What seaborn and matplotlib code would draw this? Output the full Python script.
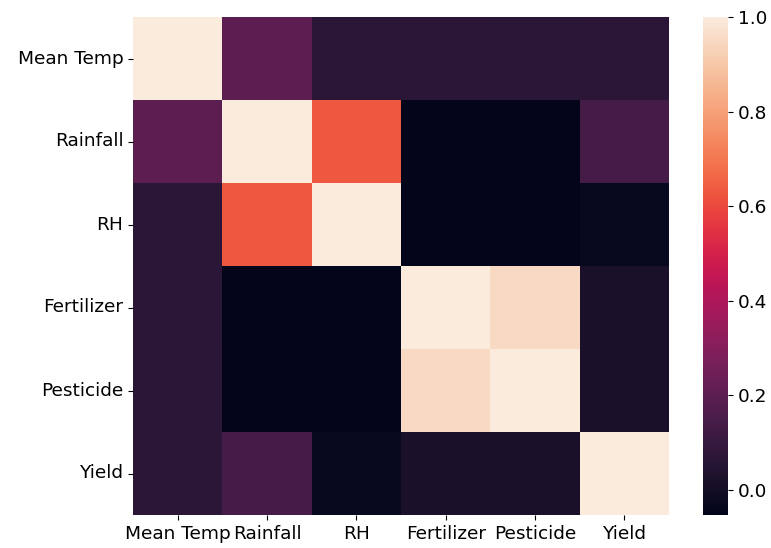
import numpy as np
import pandas as pd
import matplotlib
matplotlib.use("Agg")
import matplotlib.pyplot as plt
import seaborn as sns

labels = ["Mean Temp", "Rainfall", "RH", "Fertilizer", "Pesticide", "Yield"]

# Correlation matrix rows
mean_temp = [1.00, 0.20, 0.065, 0.07, 0.065, 0.07]
rainfall = [0.20, 1.00, 0.63, -0.045, -0.045, 0.14]
rh = [0.065, 0.63, 1.00, -0.053, -0.052, -0.03]
fertilizer = [0.07, -0.045, -0.053, 1.00, 0.95, 0.02]
pesticide = [0.065, -0.045, -0.052, 0.95, 1.00, 0.02]
yield_ = [0.07, 0.14, -0.03, 0.02, 0.02, 1.00]

corr = pd.DataFrame([mean_temp, rainfall, rh, fertilizer, pesticide, yield_],
                    index=labels, columns=labels)

W, H = 771, 548
fig = plt.figure(figsize=(W / 100, H / 100), dpi=100)
ax = fig.add_axes([133 / W, 1 - 515 / H, (669 - 133) / W, (515 - 17) / H])
cax = fig.add_axes([703 / W, 1 - 515 / H, (728 - 703) / W, (515 - 17) / H])
sns.heatmap(corr, ax=ax, cbar_ax=cax)
ax.tick_params(labelsize=13.3)
cax.tick_params(labelsize=13.3)
plt.setp(ax.get_xticklabels(), rotation=0)
plt.setp(ax.get_yticklabels(), rotation=0)
fig.savefig("out.png", dpi=100)
